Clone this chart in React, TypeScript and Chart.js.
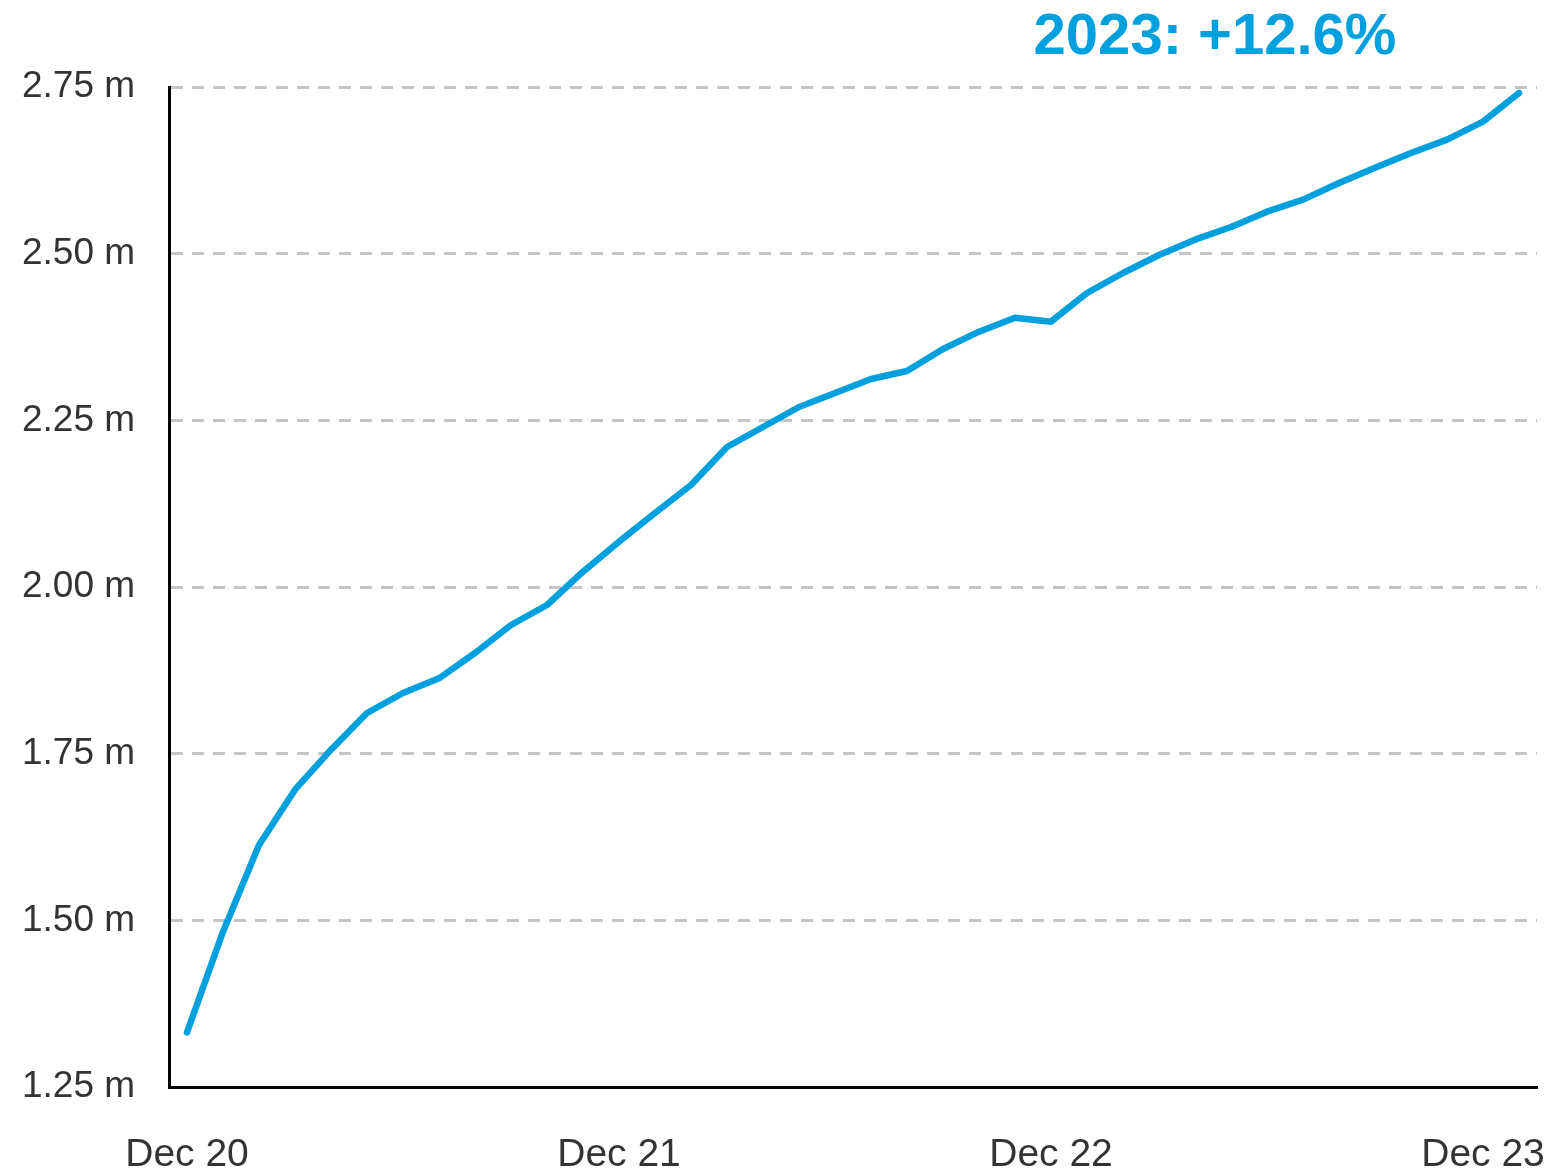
import React, { useEffect, useRef } from "react";
import { Chart, registerables } from "chart.js";

Chart.register(...registerables);

const months: string[] = [
  "Dec 20", "Jan 21", "Feb 21", "Mar 21", "Apr 21", "May 21", "Jun 21", "Jul 21", "Aug 21", "Sep 21", "Oct 21", "Nov 21",
  "Dec 21", "Jan 22", "Feb 22", "Mar 22", "Apr 22", "May 22", "Jun 22", "Jul 22", "Aug 22", "Sep 22", "Oct 22", "Nov 22",
  "Dec 22", "Jan 23", "Feb 23", "Mar 23", "Apr 23", "May 23", "Jun 23", "Jul 23", "Aug 23", "Sep 23", "Oct 23", "Nov 23",
  "Dec 23", "Jan 24",
];

const values: number[] = [
  1.332, 1.483, 1.613, 1.696, 1.756, 1.811, 1.841, 1.863, 1.901, 1.943, 1.973, 2.023,
  2.068, 2.111, 2.153, 2.210, 2.240, 2.270, 2.291, 2.312, 2.324, 2.357, 2.383, 2.404,
  2.398, 2.441, 2.471, 2.498, 2.521, 2.540, 2.563, 2.581, 2.606, 2.629, 2.651, 2.671,
  2.698, 2.741,
];

const shownTickLabels: string[] = ["Dec 20", "Dec 21", "Dec 22", "Dec 23"];
const yMin = 1.25;
const yMax = 2.75;
const yStep = 0.25;
const titleText = "2023: +12.6%";

const BLUE = "#00a0df";
const FONT = "'Liberation Sans', Arial, sans-serif";

const titlePlugin = {
  id: "cornerTitle",
  afterDraw(chart: any) {
    const { ctx, chartArea } = chart;
    ctx.save();
    ctx.font = `bold 58px ${FONT}`;
    ctx.fillStyle = BLUE;
    ctx.textAlign = "center";
    ctx.textBaseline = "alphabetic";
    ctx.fillText(titleText, chartArea.right - 322, chartArea.top - 33);
    ctx.restore();
  },
};

export default function App() {
  const ref = useRef<HTMLCanvasElement | null>(null);

  useEffect(() => {
    if (!ref.current) return;
    const chart = new Chart(ref.current, {
      type: "line",
      data: {
        labels: months,
        datasets: [
          {
            data: values,
            borderColor: BLUE,
            borderWidth: 6.5,
            borderCapStyle: "round",
            borderJoinStyle: "round",
            pointRadius: 0,
            tension: 0,
            fill: false,
          },
        ],
      },
      options: {
        animation: false,
        responsive: false,
        maintainAspectRatio: false,
        layout: { padding: { top: 87, left: 22, right: 7, bottom: 3 } },
        plugins: {
          legend: { display: false },
          tooltip: { enabled: false },
          title: { display: false },
        },
        scales: {
          x: {
            type: "category",
            offset: true,
            afterFit: (scale: any) => {
              scale.height = 82;
              scale.paddingLeft = 0;
              scale.paddingRight = 0;
            },
            grid: { display: false, drawTicks: false },
            border: { display: true, color: "#000000", width: 3 },
            ticks: {
              autoSkip: false,
              maxRotation: 0,
              padding: 49,
              color: "#333333",
              font: { family: FONT, size: 39, lineHeight: 1.0 },
              callback: (_v: any, i: number) =>
                shownTickLabels.includes(months[i]) ? months[i] : "",
            },
          },
          y: {
            type: "linear",
            min: yMin,
            max: yMax,
            afterFit: (scale: any) => {
              scale.width = 147;
              scale.paddingTop = 0;
              scale.paddingBottom = 0;
            },
            grid: { color: "#c6c6c6", lineWidth: 3, drawTicks: false },
            border: { display: true, color: "#000000", width: 3, dash: [12, 9] },
            ticks: {
              stepSize: yStep,
              crossAlign: "far",
              padding: 0,
              color: "#333333",
              font: { family: FONT, size: 37 },
              callback: (v: any) => `${Number(v).toFixed(2)} m`,
            },
          },
        },
      },
      plugins: [titlePlugin],
    });
    return () => chart.destroy();
  }, []);

  return (
    <div style={{ position: "fixed", left: 0, top: 0, width: 1544, height: 1172, background: "#fff" }}>
      <canvas ref={ref} width={1544} height={1172} style={{ display: "block", width: 1544, height: 1172 }} />
    </div>
  );
}
